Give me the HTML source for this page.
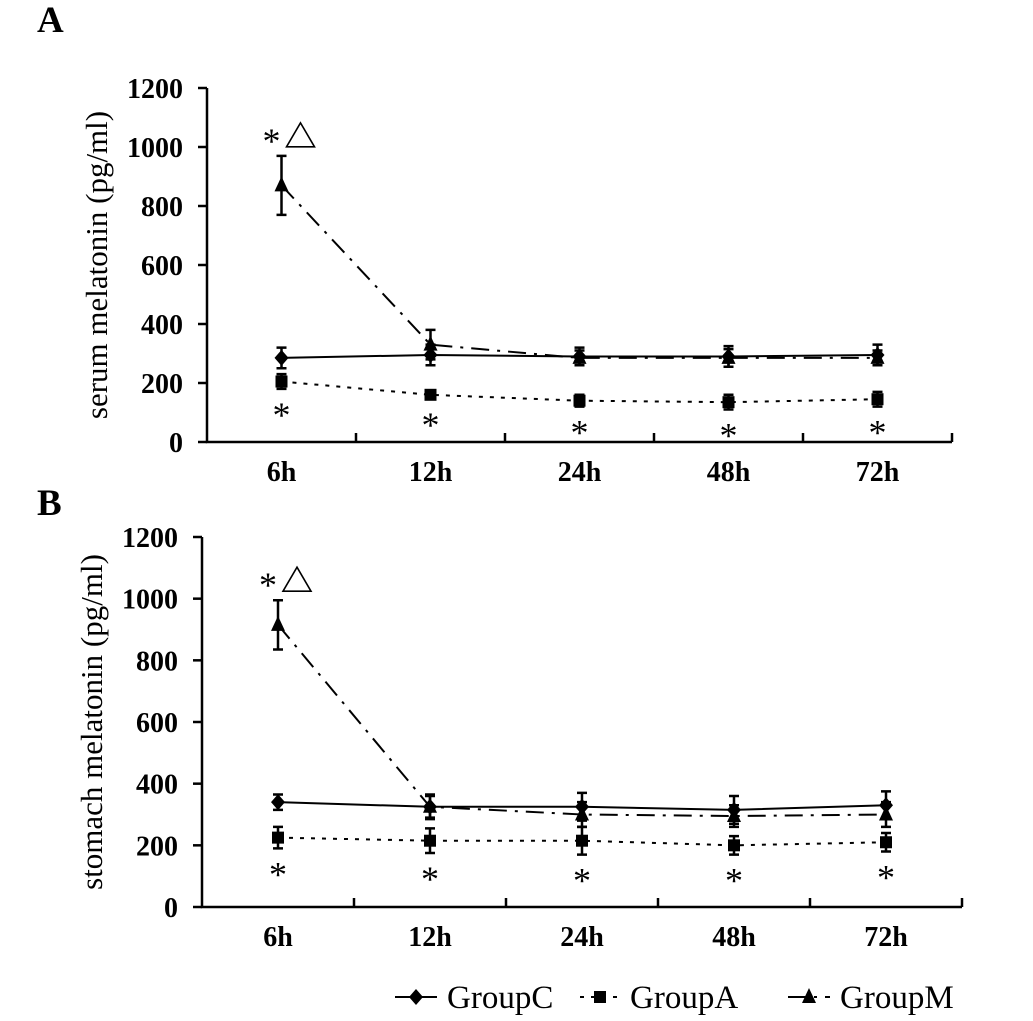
<!DOCTYPE html>
<html><head><meta charset="utf-8"><style>
body{margin:0;background:#fff;}
svg{display:block;font-family:"Liberation Serif",serif;}
</style></head><body>
<svg id="c" width="1033" height="1021"></svg>
<script>
const categories=["6h","12h","24h","48h","72h"];
const yTicks=[0,200,400,600,800,1000,1200];
const serumC=[285,295,290,290,295];
const serumCErr=[35,35,30,35,35];
const serumA=[205,160,140,135,145];
const serumAErr=[25,15,20,25,25];
const serumM=[870,330,285,285,285];
const serumMErr=[100,50,25,30,25];
const stomC=[340,325,325,315,330];
const stomCErr=[25,35,45,45,45];
const stomA=[225,215,215,200,210];
const stomAErr=[35,40,45,30,30];
const stomM=[915,325,300,295,300];
const stomMErr=[80,40,40,35,40];

const svg=document.getElementById('c');
const NS='http://www.w3.org/2000/svg';
function mk(tag,at,parent){const e=document.createElementNS(NS,tag);for(const k in at)e.setAttribute(k,at[k]);(parent||svg).appendChild(e);return e;}

function panel(p){
  const g=mk('g',{});
  
  
  const xs=i=>p.x0+(i+0.5)*p.step;
  const ys=v=>p.y0-(v/1200)*(p.y0-p.yTop);
  const L=mk('text',{x:p.letterX,y:p.letterY,'font-size':37,'font-weight':'bold'},g);L.textContent=p.letter;
  
  const x1=p.x0+5*p.step;
  const ax=mk('path',{d:`M${p.x0},${p.yTop} V${p.y0} H${x1}`,stroke:'#000','stroke-width':2.5,fill:'none'},g);
  
  yTicks.forEach(t=>{
    mk('line',{x1:p.x0-9,x2:p.x0,y1:ys(t),y2:ys(t),stroke:'#000','stroke-width':2.5},g);
    const tx=mk('text',{x:p.x0-24,y:ys(t)+10,'font-size':28,'font-weight':'bold','text-anchor':'end'},g);tx.textContent=t;
    
  });
  for(let i=1;i<=5;i++)mk('line',{x1:p.x0+i*p.step,x2:p.x0+i*p.step,y1:p.y0,y2:p.y0-9,stroke:'#000','stroke-width':2.5},g);
  categories.forEach((c,i)=>{
    const tx=mk('text',{x:xs(i),y:p.y0+39,'font-size':28,'font-weight':'bold','text-anchor':'middle'},g);tx.textContent=c;
    
  });
  const yl=mk('text',{transform:`translate(${p.x0-100},${(p.y0+p.yTop)/2}) rotate(-90)`,'font-size':31,'text-anchor':'middle'},g);
  yl.textContent=p.ylabel;
  const series=[
    {v:p.C,e:p.CE,dash:'',mark:'d',n:'groupc'},
    {v:p.A,e:p.AE,dash:'4,7',mark:'s',n:'groupa'},
    {v:p.M,e:p.ME,dash:'18,8,3,8',mark:'t',n:'groupm'}];
  series.forEach(s=>{
    const sg=mk('g',{},g);
    mk('polyline',{points:s.v.map((v,i)=>xs(i)+','+ys(v)).join(' '),fill:'none',stroke:'#000','stroke-width':2,'stroke-dasharray':s.dash},sg);
    s.v.forEach((v,i)=>{
      const x=xs(i),yt=ys(v+s.e[i]),yb=ys(v-s.e[i]);
      mk('path',{d:`M${x},${yt}V${yb}M${x-5},${yt}H${x+5}M${x-5},${yb}H${x+5}`,stroke:'#000','stroke-width':2.5},sg);
      const y=ys(v);let m;
      if(s.mark==='d')m=mk('polygon',{points:`${x},${y-8} ${x+7},${y} ${x},${y+8} ${x-7},${y}`},sg);
      else if(s.mark==='s')m=mk('rect',{x:x-6,y:y-6,width:12,height:12},sg);
      else m=mk('polygon',{points:`${x},${y-9} ${x+7},${y+6} ${x-7},${y+6}`},sg);
      
    });
  });
  p.A.forEach((v,i)=>{
    const t=mk('text',{x:xs(i),y:ys(v-p.AE[i])+38,'font-size':36,'text-anchor':'middle'},g);t.textContent='*';
    
  });
  const ty=ys(p.M[0]+p.ME[0])-20, cx=xs(0);
  const st=mk('text',{x:cx-10,y:ty+17,'font-size':36,'text-anchor':'middle'},g);st.textContent='*';
  
  const tri=mk('polygon',{points:`${cx+19},${ty-13} ${cx+33},${ty+11} ${cx+5},${ty+11}`,fill:'none',stroke:'#000','stroke-width':1.6},g);
  
}
panel({name:'panel-a',letter:'A',letterX:37,letterY:32,x0:207,step:149,y0:442,yTop:88,ylabel:'serum melatonin (pg/ml)',C:serumC,CE:serumCErr,A:serumA,AE:serumAErr,M:serumM,ME:serumMErr});
panel({name:'panel-b',letter:'B',letterX:37,letterY:515,x0:202,step:152,y0:907,yTop:537,ylabel:'stomach melatonin (pg/ml)',C:stomC,CE:stomCErr,A:stomA,AE:stomAErr,M:stomM,ME:stomMErr});

const lg=mk('g',{});
[['GroupC','',395,42,447,'d'],['GroupA','4,7',580,40,630,'s'],['GroupM','18,8,3,8',788,42,840,'t']].forEach(([n,d,x,w,tx,m])=>{
  const y=997;
  mk('line',{x1:x,x2:x+w,y1:y,y2:y,stroke:'#000','stroke-width':2,'stroke-dasharray':d},lg);
  const c=x+w/2;
  if(m==='d')mk('polygon',{points:`${c},${y-8} ${c+7},${y} ${c},${y+8} ${c-7},${y}`},lg);
  else if(m==='s')mk('rect',{x:c-6,y:y-6,width:12,height:12},lg);
  else mk('polygon',{points:`${c},${y-9} ${c+7},${y+6} ${c-7},${y+6}`},lg);
  const t=mk('text',{x:tx,y:y+11,'font-size':33},lg);t.textContent=n;
  
});
</script>
</body></html>
